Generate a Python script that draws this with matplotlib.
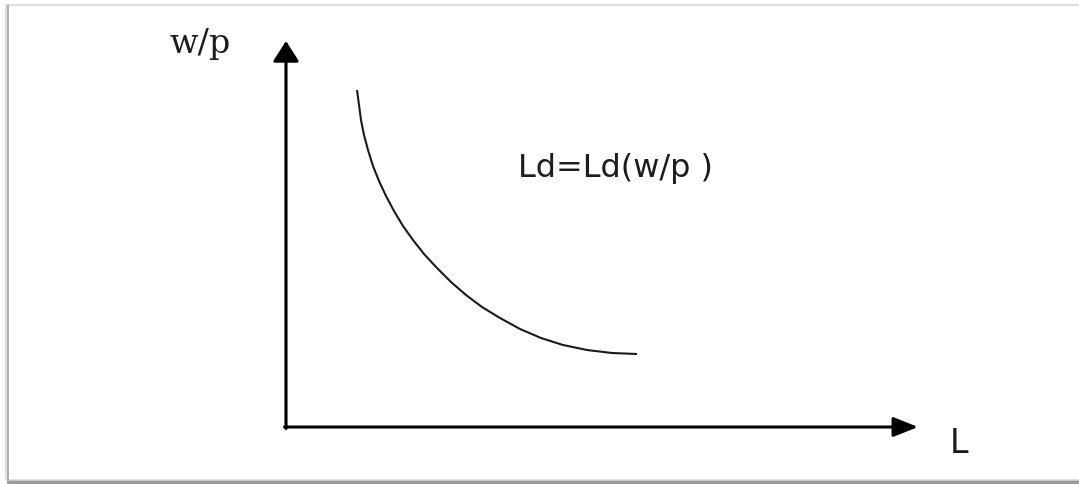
import numpy as np
import matplotlib.pyplot as plt
from matplotlib.patches import Rectangle

# labour demand curve, L along x and w/p along y (origin at the axes corner)
labour = [71, 73, 75, 78, 82, 87, 93, 100, 108, 117, 127, 138, 151,
          165, 180, 196, 214, 234, 255, 277, 301, 326, 351]
real_wage = [337, 322, 307, 292, 277, 261, 246, 231, 216, 201, 187, 173, 159,
             145, 132, 120, 109, 98, 89, 82, 77, 74, 73]

x_label = "L"
y_label = "w/p"
curve_label = "Ld=Ld(w/p )"

fig = plt.figure(figsize=(10.79, 4.84), dpi=100)
ax = fig.add_axes([0, 0, 1, 1])
ax.set_xlim(-286, 793)
ax.set_ylim(-57, 427)
ax.axis('off')

# page frame with a soft shadow
ax.add_patch(Rectangle((-280, -53), 1100, 475, fill=False, lw=1.2,
                       ec='#d8d8d8', zorder=1))
ax.add_patch(Rectangle((-279, -57), 1100, 4, lw=0, fc='#9a9a9a', zorder=1))
ax.add_patch(Rectangle((-279, -54), 1100, 1.5, lw=0, fc='#c8c8c8', zorder=1))
ax.add_patch(Rectangle((-279.5, -55), 2, 477, lw=0, fc='#b0b0b0', zorder=1))

# axes with arrow heads
ax.annotate('', xy=(0, 386), xytext=(0, -1.5),
            arrowprops=dict(arrowstyle='-|>,head_length=1.25,head_width=0.8',
                            mutation_scale=10, lw=2.2, color='black',
                            shrinkA=0, shrinkB=0))
ax.annotate('', xy=(632, 0), xytext=(-1.5, 0),
            arrowprops=dict(arrowstyle='-|>,head_length=1.5,head_width=0.6',
                            mutation_scale=10, lw=2.2, color='black',
                            shrinkA=0, shrinkB=0))

ax.plot(labour, real_wage, color='#1a1a1a', lw=1.5,
        solid_capstyle='butt', solid_joinstyle='round')

ax.text(-116, 374, y_label, family='DejaVu Serif', fontsize=24,
        color='#1c1c1c', ha='left', va='baseline')
ax.text(664, -26, x_label, family='DejaVu Sans', fontsize=24,
        color='#1c1c1c', ha='left', va='baseline')
ax.text(232, 250, curve_label, family='DejaVu Sans', fontsize=23,
        color='#1c1c1c', ha='left', va='baseline')

fig.savefig('out.png', dpi=100)
